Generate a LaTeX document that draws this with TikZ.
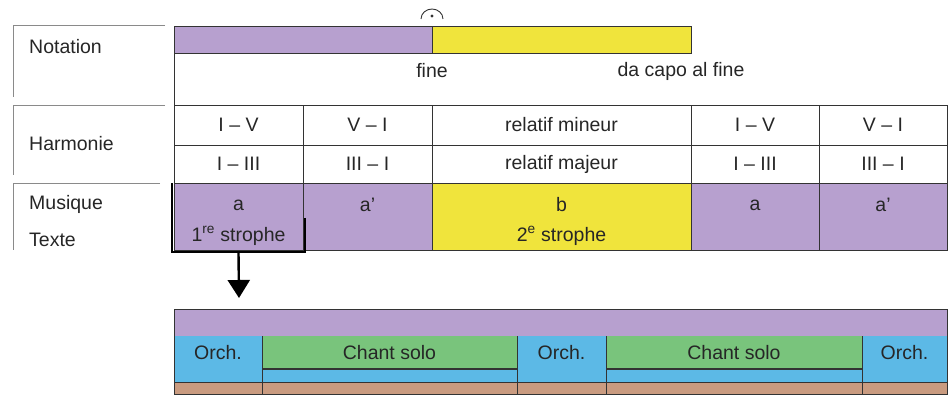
\documentclass[tikz,border=0pt]{standalone}
\usepackage{fontspec}
\setmainfont{Liberation Sans}
\usetikzlibrary{arrows.meta}
\definecolor{lila}{HTML}{B7A0CF}
\definecolor{jaune}{HTML}{F0E43C}
\definecolor{bleu}{HTML}{5CB9E6}
\definecolor{vert}{HTML}{79C47C}
\definecolor{brun}{HTML}{C99B80}
\definecolor{trait}{HTML}{333333}
\definecolor{gris}{HTML}{8A8A8A}
\tikzset{
  lab/.style={font=\fontsize{19.5}{21}\selectfont, text=black!85, inner sep=0pt},
  cell/.style={draw=trait, line width=0.6pt, inner sep=0pt, font=\fontsize{19.5}{21}\selectfont, text=black!85},
  frameline/.style={draw=gris, line width=0.8pt},
  grid/.style={draw=trait, line width=0.6pt},
  thick frame/.style={draw=black, line width=2.4pt},
  bigarrow/.style={draw=black, line width=2.4pt, -{Triangle[width=22pt,length=18pt]}},
}
\begin{document}
\begin{tikzpicture}[x=1pt,y=-1pt]
\useasboundingbox (0,0) rectangle (948,398);

% left label frames
\draw[frameline] (165,25) -- (13,25) -- (13,97);
\draw[frameline] (165,105) -- (13,105) -- (13,175);
\draw[frameline] (160,183) -- (13,183) -- (13,250);
\node[lab, anchor=west] (lnot) at (29,47) {Notation};
\node[lab, anchor=west] (lhar) at (29,144) {Harmonie};
\node[lab, anchor=west] (lmus) at (29,204) {Musique};
\node[lab, anchor=west] (ltex) at (29,240) {Texte};

% notation bars
\node[cell, fill=lila, minimum width=258pt, minimum height=27pt] (barA) at (303,40) {};
\node[cell, fill=jaune, minimum width=259pt, minimum height=27pt] (barB) at (561.5,40) {};
\draw[grid] (174,53) -- (174,105);
% fermata
\draw[line width=0.9pt, black!80] (421,19) arc[start angle=180, end angle=360, x radius=11, y radius=10];
\fill[black!80] (432,16) circle (1.6);
\node[lab] (fine) at (432,71) {fine};
\node[lab] (dacapo) at (681,71) {da capo al fine};

% harmonie table
\node[cell, minimum width=129pt, minimum height=40pt] (h11) at (238.5,125) {I -- V};
\node[cell, minimum width=129pt, minimum height=40pt] (h12) at (367.5,125) {V -- I};
\node[cell, minimum width=259pt, minimum height=40pt] (h13) at (561.5,125) {relatif mineur};
\node[cell, minimum width=128pt, minimum height=40pt] (h14) at (755,125) {I -- V};
\node[cell, minimum width=128pt, minimum height=40pt] (h15) at (883,125) {V -- I};
\node[cell, minimum width=129pt, minimum height=38pt] (h21) at (238.5,164) {I -- III};
\node[cell, minimum width=129pt, minimum height=38pt] (h22) at (367.5,164) {III -- I};
\node[cell, minimum width=259pt, minimum height=38pt] (h23) at (561.5,164) {relatif majeur};
\node[cell, minimum width=128pt, minimum height=38pt] (h24) at (755,164) {I -- III};
\node[cell, minimum width=128pt, minimum height=38pt] (h25) at (883,164) {III -- I};

% musique / texte row
\node[cell, fill=lila, minimum width=129pt, minimum height=67pt] (m1) at (238.5,216.5) {};
\node[cell, fill=lila, minimum width=129pt, minimum height=67pt] (m2) at (367.5,216.5) {};
\node[cell, fill=jaune, minimum width=259pt, minimum height=67pt] (m3) at (561.5,216.5) {};
\node[cell, fill=lila, minimum width=128pt, minimum height=67pt] (m4) at (755,216.5) {};
\node[cell, fill=lila, minimum width=128pt, minimum height=67pt] (m5) at (883,216.5) {};
\node[lab] (t1a) at (238.5,205) {a};
\node[lab] (t1b) at (238.5,236) {1\textsuperscript{re} strophe};
\node[lab] (t2a) at (367.5,205) {a'};
\node[lab] (t3a) at (561.5,205) {b};
\node[lab] (t3b) at (561.5,236) {2\textsuperscript{e} strophe};
\node[lab] (t4a) at (755,205) {a};
\node[lab] (t5a) at (883,205) {a'};
\draw[thick frame] (305,218) -- (305,252) -- (172,252) -- (172,183);

% arrow
\coordinate (arrEnd) at (239,298);
\draw[bigarrow] (m1.south) ++(0,2) -- (arrEnd);

% bottom detail bar
\node[cell, fill=lila, minimum width=773pt, minimum height=27pt] (top) at (560.5,322.5) {};
\fill[brun] (174,382) rectangle (947,394);
\fill[bleu] (174,336) rectangle (947,382);
\fill[vert] (262,336) rectangle (517,369);
\fill[vert] (606,336) rectangle (862,369);
\draw[trait, line width=1.6pt] (262,369) -- (517,369);
\draw[trait, line width=1.6pt] (606,369) -- (862,369);
\draw[grid] (174,309) rectangle (947,394);
\draw[grid] (174,382) -- (947,382);
\foreach \xx in {262,517,606,862} \draw[grid] (\xx,336) -- (\xx,394);
\node[lab] (o1) at (218,353) {Orch.};
\node[lab] (c1) at (389.5,353) {Chant solo};
\node[lab] (o2) at (561.5,353) {Orch.};
\node[lab] (c2) at (734,353) {Chant solo};
\node[lab] (o3) at (904.5,353) {Orch.};
\end{tikzpicture}
\end{document}
